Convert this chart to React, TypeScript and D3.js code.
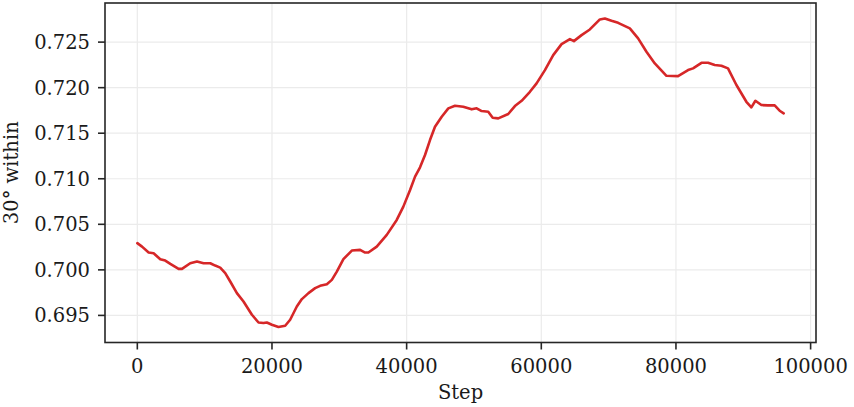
import React from "react";
import * as d3 from "d3";

const steps = [0, 700, 1680, 2420, 3410, 4150, 4900, 6130, 6630, 7860, 8860, 9840, 10830, 11570, 12310, 13060, 13800, 14790, 15770, 17020, 18000, 18740, 19240, 19990, 20960, 21960, 22700, 23690, 24440, 25420, 26410, 27150, 28150, 28890, 29630, 30610, 31860, 33090, 33830, 34320, 35560, 37050, 38530, 39510, 40510, 41250, 41990, 42730, 43470, 44210, 45210, 46190, 47180, 48410, 49660, 50400, 51140, 52120, 52780, 53610, 55090, 56080, 57080, 58310, 59300, 60540, 61770, 63010, 64250, 64840, 65980, 67210, 68700, 69440, 70430, 71410, 73150, 74380, 75620, 76860, 78590, 80310, 81800, 82540, 83790, 84770, 85760, 86750, 87730, 88980, 90460, 91200, 91800, 92690, 93670, 94660, 95400, 96000];
const within30 = [0.70293, 0.70255, 0.7019, 0.70183, 0.70117, 0.70102, 0.70066, 0.70011, 0.70011, 0.70073, 0.70091, 0.70073, 0.70073, 0.70047, 0.70025, 0.69964, 0.69872, 0.69745, 0.69652, 0.69507, 0.69422, 0.69416, 0.69422, 0.69397, 0.69372, 0.69386, 0.69452, 0.69598, 0.69679, 0.69745, 0.69799, 0.69825, 0.69843, 0.6989, 0.69981, 0.70117, 0.70212, 0.70219, 0.7019, 0.7019, 0.70255, 0.70384, 0.70548, 0.70694, 0.70877, 0.71023, 0.71126, 0.71261, 0.71425, 0.71571, 0.71681, 0.71773, 0.71802, 0.71791, 0.71762, 0.71773, 0.71743, 0.71736, 0.7167, 0.71663, 0.71711, 0.71798, 0.71856, 0.71955, 0.72047, 0.72193, 0.72357, 0.72478, 0.72533, 0.72511, 0.72577, 0.72639, 0.72749, 0.7276, 0.72734, 0.72712, 0.7265, 0.72541, 0.72394, 0.72266, 0.7213, 0.72127, 0.72193, 0.72212, 0.72273, 0.72273, 0.72248, 0.7224, 0.72212, 0.72029, 0.71845, 0.71784, 0.71856, 0.71809, 0.71806, 0.71806, 0.71747, 0.71718];
const xTicks = [0, 20000, 40000, 60000, 80000, 100000];
const yTicks = [0.695, 0.7, 0.705, 0.71, 0.715, 0.72, 0.725];

const W = 854, H = 407;
const L = 105, R = 816, T = 3, B = 342.5;
const FONT = "'DejaVu Serif', serif";
const FS = 19.5;

export default function App() {
  const xr = d3.extent(steps) as [number, number];
  const yr = d3.extent(within30) as [number, number];
  const xm = (xr[1] - xr[0]) * 0.05, ym = (yr[1] - yr[0]) * 0.05;
  const x = d3.scaleLinear().domain([xr[0] - xm, xr[1] + xm]).range([L, R]);
  const y = d3.scaleLinear().domain([yr[0] - ym, yr[1] + ym]).range([B, T]);
  const line = d3.line<number>().x((_, i) => x(steps[i])).y((d) => y(d)).curve(d3.curveLinear);
  return (
    <svg width={W} height={H} style={{ position: "absolute", left: 0, top: 0, background: "#fff" }} fontFamily={FONT}>
      <rect x={0} y={0} width={W} height={H} fill="#fff" />
      <g>
        {xTicks.map((t) => (
          <line key={"gx" + t} x1={x(t)} x2={x(t)} y1={T} y2={B} stroke="#ebebeb" strokeWidth={1.2} />
        ))}
        {yTicks.map((t) => (
          <line key={"gy" + t} x1={L} x2={R} y1={y(t)} y2={y(t)} stroke="#ebebeb" strokeWidth={1.2} />
        ))}
      </g>
      <path d={line(within30) || ""} fill="none" stroke="#d62728" strokeWidth={2.6} strokeLinejoin="round" strokeLinecap="round" />
      <rect x={L} y={T} width={R - L} height={B - T} fill="none" stroke="#262626" strokeWidth={1.6} />
      {xTicks.map((t) => (
        <g key={"xt" + t}>
          <line x1={x(t)} x2={x(t)} y1={B} y2={B + 7} stroke="#262626" strokeWidth={1.6} />
          <text x={x(t)} y={373} textAnchor="middle" fontSize={FS} fill="#1a1a1a">{t}</text>
        </g>
      ))}
      {yTicks.map((t) => (
        <g key={"yt" + t}>
          <line x1={L - 7} x2={L} y1={y(t)} y2={y(t)} stroke="#262626" strokeWidth={1.6} />
          <text x={90} y={y(t)} dy="0.36em" textAnchor="end" fontSize={FS} fill="#1a1a1a">{d3.format(".3f")(t)}</text>
        </g>
      ))}
      <text x={(L + R) / 2} y={399} textAnchor="middle" fontSize={FS} fill="#1a1a1a">Step</text>
      <text transform={`translate(18,${(T + B) / 2}) rotate(-90)`} textAnchor="middle" fontSize={FS} fill="#1a1a1a">30° within</text>
    </svg>
  );
}
